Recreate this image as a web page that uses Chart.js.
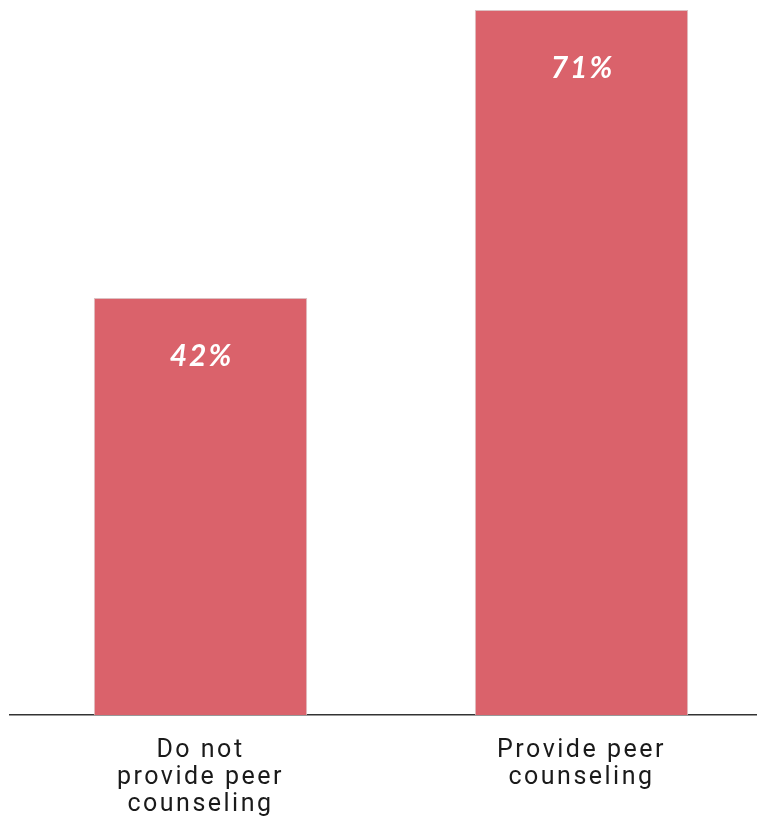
<!DOCTYPE html>
<html>
<head>
<meta charset="utf-8">
<script src="https://cdn.jsdelivr.net/npm/chart.js@4.4.0/dist/chart.umd.min.js"></script>
<style>
  html, body { margin: 0; padding: 0; background: #fff; overflow: hidden; }
  #wrap { position: relative; width: 772px; height: 816px; }
</style>
</head>
<body>
<div id="wrap"><canvas id="peerChart"></canvas></div>
<script>
// survey share, by whether peer counseling is offered
const categories = [
  ['Do not', 'provide peer', 'counseling'],
  ['Provide peer', 'counseling']
];
const shareValues = [42, 71];
const barColor = '#da626b';

// white percent label near the top of each bar
const barValueLabels = {
  id: 'barValueLabels',
  afterDatasetsDraw(chart) {
    const ctx = chart.ctx;
    const meta = chart.getDatasetMeta(0);
    ctx.save();
    ctx.fillStyle = '#ffffff';
    ctx.font = 'italic bold 30px Lato';
    ctx.letterSpacing = '2px';
    ctx.textAlign = 'center';
    ctx.textBaseline = 'middle';
    meta.data.forEach((bar, i) => {
      ctx.fillText(shareValues[i] + '%', bar.x + 1, bar.y + 58);
    });
    ctx.restore();
  }
};

// spaced-out tick text
const tickSpacing = {
  id: 'tickSpacing',
  beforeDraw(chart) { chart.ctx.letterSpacing = '2.5px'; },
  afterDraw(chart) { chart.ctx.letterSpacing = '0px'; }
};

new Chart(document.getElementById('peerChart'), {
  type: 'bar',
  data: {
    labels: categories,
    datasets: [{
      data: shareValues,
      backgroundColor: barColor,
      borderColor: '#dcc0c2',
      borderWidth: 1,
      barPercentage: 0.56,
      categoryPercentage: 1
    }]
  },
  options: {
    responsive: true,
    maintainAspectRatio: false,
    animation: false,
    layout: { padding: { left: 10, top: 0, right: 0, bottom: 0 } },
    plugins: {
      legend: { display: false },
      tooltip: { enabled: false }
    },
    scales: {
      x: {
        grid: { display: false, drawTicks: false },
        border: { display: true, color: '#333333', width: 1.5 },
        ticks: {
          color: '#1a1a1a',
          padding: 22,
          maxRotation: 0,
          autoSkip: false,
          font: { family: 'Roboto', size: 25, lineHeight: 1.08 }
        },
        afterFit(scale) { scale.height = 101; }
      },
      y: {
        display: false,
        min: 0,
        max: 72
      }
    }
  },
  plugins: [barValueLabels, tickSpacing]
});
</script>
</body>
</html>
